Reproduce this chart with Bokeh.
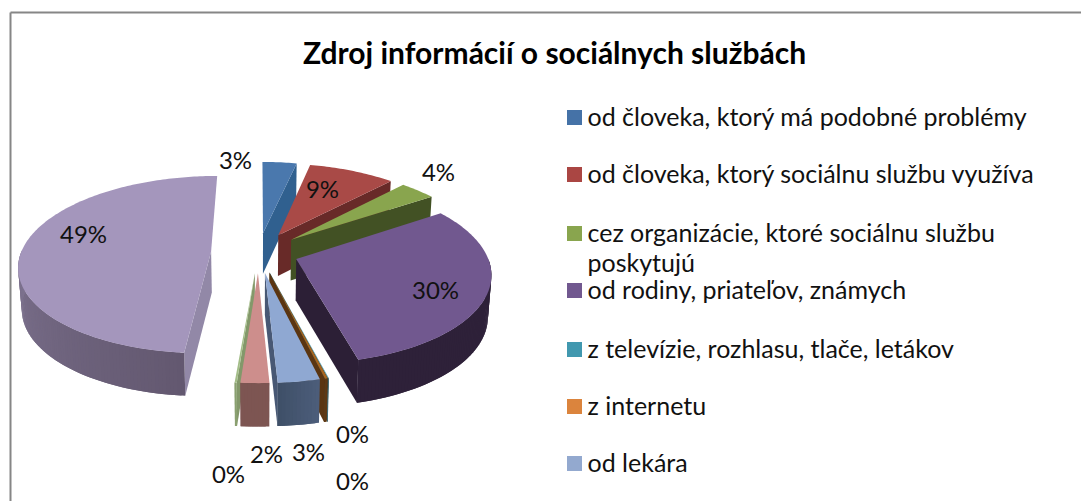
import math
from bokeh.plotting import figure
from bokeh.models import Range1d, ColumnDataSource
from bokeh.core.properties import value
from bokeh.embed import file_html
from bokeh.resources import INLINE

title = "Zdroj informácií o sociálnych službách"
legend_labels = [
    "od človeka, ktorý má podobné problémy",
    "od človeka, ktorý sociálnu službu využíva",
    "cez organizácie, ktoré sociálnu službu",
    "poskytujú",
    "od rodiny, priateľov, známych",
    "z televízie, rozhlasu, tlače, letákov",
    "z internetu",
    "od lekára",
]
legend_colors = ["#4572a7", "#aa4643", "#89a54e", None, "#71588f", "#4198af", "#db843d", "#93a9cf"]
legend_ys = [117, 174, 233, 263, 290, 349, 406, 463]

values = [3.4, 8.6, 3.6, 30.4, 0.05, 0.2, 2.95, 2.0, 0.15, 48.65]
top_colors = ["#4a78ad", "#a94a47", "#89a54e", "#71588f", "#4198af", "#a8651f", "#8fa8d2", "#cd8e8c", "#a3bd88", "#a496bc"]
wall_left = ["#336597", "#6e2c2a", "#455526", "#2e2139", "#21505c", "#5f3813", "#3f5068", "#7d5552", "#8aa070", "#9a8fb0"]
wall_right = ["#336597", "#6e2c2a", "#455526", "#2e2139", "#21505c", "#5f3813", "#4c5d7a", "#7d5552", "#8aa070", "#635870"]
explode = [0.23, 0.23, 0.23, 0.21, 0.23, 0.23, 0.23, 0.23, 0.23, 0.25]
label_xy = [(235, 159), (322, 188), (438, 171), (435, 289), (352, 433), (352, 480), (308, 451), (266, 453), (228, 473), (83, 233)]

W, H = 1081, 501
CX, CY, RX, RY, PERSP, DROP = 258, 252, 190, 87, 0.147, 41


def hex2rgb(c):
    return tuple(int(c[i:i + 2], 16) for i in (1, 3, 5))


def mix(a, b, t):
    ca, cb = hex2rgb(a), hex2rgb(b)
    return "#%02x%02x%02x" % tuple(round(x + (y - x) * t) for x, y in zip(ca, cb))


def top_pt(u, v):
    s = 1 / (1 - PERSP * v)
    return CX + RX * u * s, CY + RY * v * s


def bottom_pt(u, v):
    x, y = top_pt(u, v)
    return CX + (x - CX) * 0.985, y + DROP + 2 * v


def face(pts, color):
    return [p[0] for p in pts], [p[1] for p in pts], color


total = sum(values)
slices = []
acc = 0
for i, val in enumerate(values):
    a0 = acc / total * 360
    acc += val
    a1 = acc / total * 360
    slices.append((i, a0, a1))

faces = []
for i, a0, a1 in sorted(slices, key=lambda s: -math.cos(math.radians((s[1] + s[2]) / 2))):
    mid = math.radians((a0 + a1) / 2)
    ou, ov = explode[i] * math.sin(mid), -explode[i] * math.cos(mid)
    n = max(2, int(a1 - a0) + 1)
    angs = [a0 + (a1 - a0) * k / n for k in range(n + 1)]

    def rim(a):
        r = math.radians(a)
        return ou + math.sin(r), ov - math.cos(r)

    # radial walls facing the viewer
    for edge, normal, col in ((a0, a0 - 90, wall_left[i]), (a1, a1 + 90, wall_right[i])):
        if -math.cos(math.radians(normal)) > 0:
            u, v = rim(edge)
            faces.append(face([top_pt(ou, ov), top_pt(u, v), bottom_pt(u, v), bottom_pt(ou, ov)], mix(col, "#000000", 0.05)))
    # outer wall: overlapping strips, later strips drawn over earlier ones
    for k in range(n):
        b0 = angs[k]
        b1 = angs[min(k + 2, n)]
        if -math.cos(math.radians((b0 + angs[k + 1]) / 2)) > 0:
            u0, v0 = rim(b0)
            u1, v1 = rim(b1)
            t = k / max(n - 1, 1)
            faces.append(face([top_pt(u0, v0), top_pt(u1, v1), bottom_pt(u1, v1), bottom_pt(u0, v0)],
                              mix(wall_right[i], wall_left[i], t)))
    # top face
    faces.append(face([top_pt(ou, ov)] + [top_pt(*rim(a)) for a in angs], top_colors[i]))

p = figure(width=W, height=H, x_range=Range1d(0, W), y_range=Range1d(H, 0),
           output_backend="svg", toolbar_location=None, min_border=0)
p.axis.visible = False
p.grid.visible = False
p.outline_line_color = None
p.background_fill_color = "white"

# chart frame
p.line([10, 10], [501, 12], line_color="#868686", line_width=2)
p.line([10, 1081], [12, 12], line_color="#868686", line_width=2)

src = ColumnDataSource(dict(xs=[f[0] for f in faces], ys=[f[1] for f in faces], c=[f[2] for f in faces]))
p.patches("xs", "ys", source=src, fill_color="c", line_color=None)

p.text([554], [51], text=[title], text_font=value("Lato"), text_font_size="30px", text_font_style="bold",
       text_align="center", text_baseline="middle", text_color="#000000")

pct = ["%d%%" % round(v) for v in values]
p.text([q[0] for q in label_xy], [q[1] for q in label_xy], text=pct, text_font=value("Lato"),
       text_font_size="24px", text_align="center", text_baseline="middle", text_color="#111111")

sq = [(y, c) for y, c in zip(legend_ys, legend_colors) if c]
p.scatter([574] * len(sq), [s[0] for s in sq], marker="square", size=15, fill_color=[s[1] for s in sq], line_color=None)
p.text([587] * len(legend_labels), [y - 2 for y in legend_ys], text=legend_labels, text_font=value("Lato"),
       text_font_size="25px", text_align="left", text_baseline="middle", text_color="#111111")

open("out.html", "w").write(file_html(p, INLINE))
